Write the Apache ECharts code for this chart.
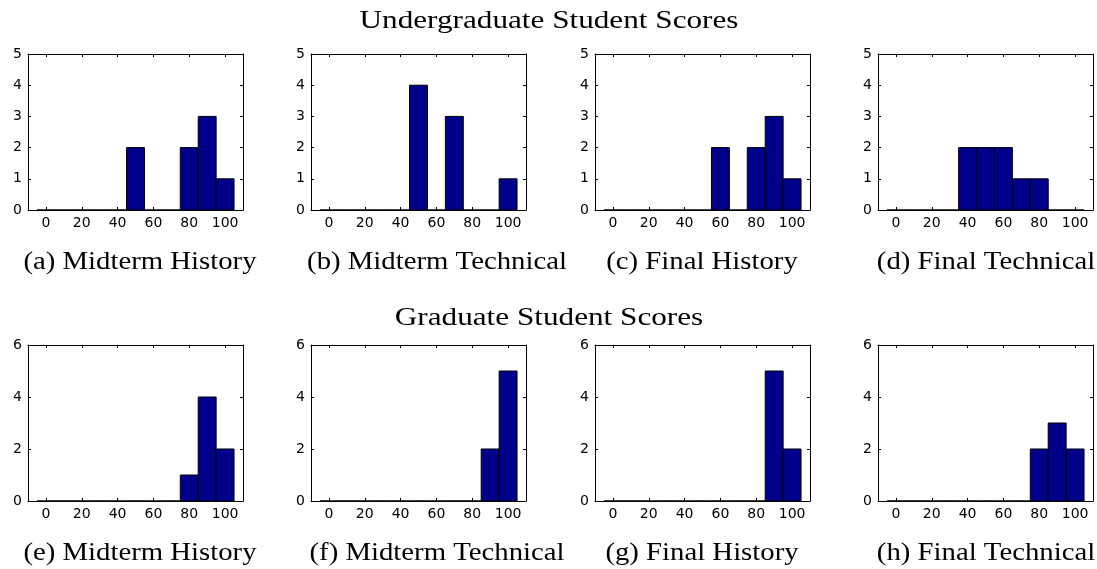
<!DOCTYPE html>
<html><head><meta charset="utf-8">
<script src="https://cdn.jsdelivr.net/npm/echarts@6/dist/echarts.min.js"></script>
<style>html,body{margin:0;padding:0;background:#fff}#c{width:1097px;height:569px}</style>
</head><body><div id="c"></div>
<script>
// ---- data ----
const binCenters = [0, 10, 20, 30, 40, 50, 60, 70, 80, 90, 100];
const ugMidHist = [0, 0, 0, 0, 0, 2, 0, 0, 2, 3, 1];
const ugMidTech = [0, 0, 0, 0, 0, 4, 0, 3, 0, 0, 1];
const ugFinHist = [0, 0, 0, 0, 0, 0, 2, 0, 2, 3, 1];
const ugFinTech = [0, 0, 0, 0, 2, 2, 2, 1, 1, 0, 0];
const grMidHist = [0, 0, 0, 0, 0, 0, 0, 0, 1, 4, 2];
const grMidTech = [0, 0, 0, 0, 0, 0, 0, 0, 0, 2, 5];
const grFinHist = [0, 0, 0, 0, 0, 0, 0, 0, 0, 5, 2];
const grFinTech = [0, 0, 0, 0, 0, 0, 0, 0, 2, 3, 2];
const xTickValues = [0, 20, 40, 60, 80, 100];
const rowTitles = ['Undergraduate Student Scores', 'Graduate Student Scores'];
const captions = ['(a) Midterm History', '(b) Midterm Technical', '(c) Final History', '(d) Final Technical',
                  '(e) Midterm History', '(f) Midterm Technical', '(g) Final History', '(h) Final Technical'];
const rowYMax = [5, 6];
const rowYInterval = [1, 2];

// ---- layout ----
const seriesData = [ugMidHist, ugMidTech, ugFinHist, ugFinTech, grMidHist, grMidTech, grFinHist, grFinTech];
const colLefts = [28, 311, 595, 878];
const rowTops = [54, 345];
const boxW = 215, boxH = 156;
const binHalf = 5;
const captionX = [140, 437, 702, 986];
const captionY = [262, 553];
const titleY = [21, 318];

const grids = [], xAxes = [], yAxes = [], series = [], graphics = [];
const tickFont = {fontFamily: 'DejaVu Sans', fontSize: 14, color: '#000'};
seriesData.forEach((counts, i) => {
  const row = Math.floor(i / 4), col = i % 4;
  grids.push({left: colLefts[col], top: rowTops[row], width: boxW, height: boxH});
  const baseX = {
    type: 'value', gridIndex: i, min: -10, max: 110,
    splitLine: {show: false},
    axisLine: {show: true, onZero: false, lineStyle: {color: '#000', width: 1}},
    axisTick: {show: true, inside: true, length: 3, customValues: xTickValues, lineStyle: {color: '#000'}}
  };
  xAxes.push(Object.assign({}, baseX, {position: 'bottom',
    axisLabel: Object.assign({show: true, margin: 6, customValues: xTickValues}, tickFont)}));
  xAxes.push(Object.assign({}, baseX, {position: 'top', axisLabel: {show: false}}));
  const baseY = {
    type: 'value', gridIndex: i, min: 0, max: rowYMax[row], interval: rowYInterval[row],
    splitLine: {show: false},
    axisLine: {show: true, onZero: false, lineStyle: {color: '#000', width: 1}},
    axisTick: {show: true, inside: true, length: 3, lineStyle: {color: '#000'}}
  };
  yAxes.push(Object.assign({}, baseY, {position: 'left',
    axisLabel: Object.assign({show: true, margin: 6}, tickFont)}));
  yAxes.push(Object.assign({}, baseY, {position: 'right', axisLabel: {show: false}}));
  series.push({
    type: 'custom', xAxisIndex: 2 * i, yAxisIndex: 2 * i,
    data: binCenters.map((c, k) => [c, counts[k]]),
    renderItem: function (params, api) {
      const c = api.value(0), v = api.value(1);
      const p1 = api.coord([c - binHalf, v]);
      const p2 = api.coord([c + binHalf, 0]);
      return {type: 'rect',
        shape: {x: p1[0], y: p1[1], width: p2[0] - p1[0], height: p2[1] - p1[1]},
        style: {fill: '#00008a', stroke: '#000', lineWidth: 1}};
    }
  });
  graphics.push({type: 'text', x: captionX[col], y: captionY[row], scaleX: 1.15,
    style: {text: captions[i], font: '25px "Liberation Serif"', fill: '#000', textAlign: 'center', textVerticalAlign: 'middle'}});
});
rowTitles.forEach((t, r) => {
  graphics.push({type: 'text', x: 549, y: titleY[r], scaleX: 1.2,
    style: {text: t, font: '26px "Liberation Serif"', fill: '#000', textAlign: 'center', textVerticalAlign: 'middle'}});
});

const chart = echarts.init(document.getElementById('c'));
chart.setOption({
  animation: false,
  backgroundColor: '#fff',
  grid: grids, xAxis: xAxes, yAxis: yAxes, series: series,
  graphic: graphics
});
</script></body></html>
